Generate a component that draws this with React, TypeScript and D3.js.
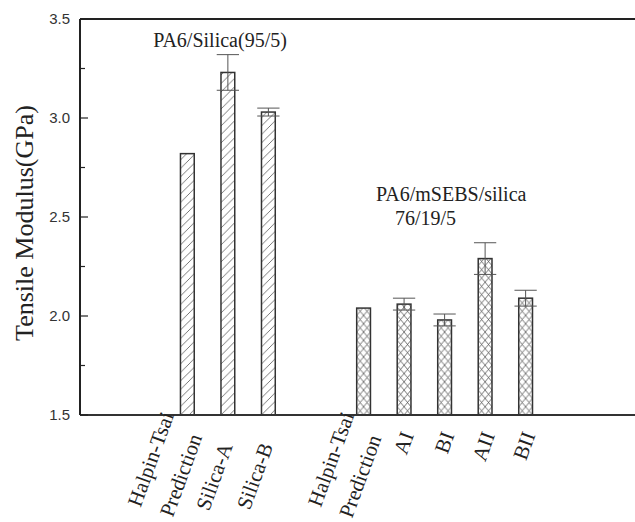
import React from 'react';
import * as d3 from 'd3';

// PA6/Silica (95/5) group
const silicaLabels = [['Halpin-Tsai', 'Prediction'], ['Silica-A'], ['Silica-B']];
const silicaPos = [1, 2, 3];
const silicaValues = [2.82, 3.23, 3.03];
const silicaErrors = [0, 0.09, 0.02];

// PA6/mSEBS/silica 76/19/5 group
const blendLabels = [['Halpin-Tsai', 'Prediction'], ['AI'], ['BI'], ['AII'], ['BII']];
const blendPos = [5.35, 6.35, 7.35, 8.35, 9.35];
const blendValues = [2.04, 2.06, 1.98, 2.29, 2.09];
const blendErrors = [0, 0.03, 0.03, 0.08, 0.04];

const yMajor = [1.5, 2.0, 2.5, 3.0, 3.5];
const yMinor = [1.75, 2.25, 2.75, 3.25];

const W = 635;
const H = 522;
const left = 80;
const top = 19;
const bottom = 415;

const serif = '"Liberation Serif", "Times New Roman", serif';
const sans = '"Liberation Sans", Arial, sans-serif';

// label anchor offsets (px) relative to bar centre: [two-line line1, line2, single]
const groupLayouts = [
  { multi: [[-13, 0], [15, 22]], single: [5, 31] },
  { multi: [[-9, 0], [18, 23]], single: [10, 20] },
];

const App = () => {
  const x = d3.scaleLinear().domain([-1.65, 12.05]).range([left, W]);
  const y = d3.scaleLinear().domain([1.5, 3.5]).range([bottom, top]);
  const barW = x(0.34) - x(0);
  const capW = x(0.55) - x(0);

  const groups = [
    { labels: silicaLabels, pos: silicaPos, values: silicaValues, errors: silicaErrors, hatch: 'diag' },
    { labels: blendLabels, pos: blendPos, values: blendValues, errors: blendErrors, hatch: 'cross' },
  ];

  const bars = groups.flatMap((g, gi) =>
    g.pos.map((p, i) => ({
      key: `${gi}-${i}`,
      cx: x(p),
      value: g.values[i],
      err: g.errors[i],
      label: g.labels[i],
      hatch: g.hatch,
      layout: groupLayouts[gi],
    }))
  );

  return (
    <div style={{ position: 'absolute', left: 0, top: 0 }}>
      <svg width={W} height={H} style={{ display: 'block', background: '#fff' }}>
        <defs>
          {bars.map((b) => {
            const x0 = b.cx - barW / 2;
            return b.hatch === 'diag' ? (
              <pattern key={b.key} id={`p${b.key}`} patternUnits="userSpaceOnUse" width={8.5} height={8.5} x={x0} y={bottom}>
                <path d="M0,8.5 L8.5,0 M-2,2 L2,-2 M6.5,10.5 L10.5,6.5" stroke="#555" strokeWidth={0.8} />
              </pattern>
            ) : (
              <pattern key={b.key} id={`p${b.key}`} patternUnits="userSpaceOnUse" width={barW / 2} height={8.3} x={x0} y={bottom}>
                <path
                  d={`M0,0 L${barW / 2},8.3 M0,8.3 L${barW / 2},0`}
                  stroke="#555"
                  strokeWidth={0.8}
                />
              </pattern>
            );
          })}
        </defs>

        {/* bars */}
        {bars.map((b) => (
          <rect
            key={b.key}
            x={b.cx - barW / 2}
            y={y(b.value)}
            width={barW}
            height={bottom - y(b.value)}
            fill={`url(#p${b.key})`}
            stroke="#333"
            strokeWidth={1.5}
          />
        ))}

        {/* error bars */}
        {bars
          .filter((b) => b.err > 0)
          .map((b) => (
            <g key={`e${b.key}`} stroke="#555" strokeWidth={1}>
              <line x1={b.cx} x2={b.cx} y1={y(b.value + b.err)} y2={y(b.value - b.err)} />
              <line x1={b.cx - capW / 2} x2={b.cx + capW / 2} y1={y(b.value + b.err)} y2={y(b.value + b.err)} />
              <line x1={b.cx - capW / 2} x2={b.cx + capW / 2} y1={y(b.value - b.err)} y2={y(b.value - b.err)} />
            </g>
          ))}

        {/* axes frame */}
        <line x1={left} x2={W} y1={top} y2={top} stroke="#222" strokeWidth={2} />
        <line x1={left} x2={W} y1={bottom} y2={bottom} stroke="#333" strokeWidth={2} />
        <line x1={left} x2={left} y1={top} y2={bottom} stroke="#222" strokeWidth={2} />

        {/* y ticks */}
        {yMajor.map((v) => (
          <g key={`t${v}`}>
            <line x1={left} x2={left + 8} y1={y(v)} y2={y(v)} stroke="#222" strokeWidth={1.2} />
            <text
              x={70}
              y={y(v)}
              dy="0.36em"
              textAnchor="end"
              fontFamily={sans}
              fontSize={15}
              fill="#333"
            >
              {d3.format('.1f')(v)}
            </text>
          </g>
        ))}
        {yMinor.map((v) => (
          <line key={`m${v}`} x1={left} x2={left + 5} y1={y(v)} y2={y(v)} stroke="#222" strokeWidth={1.2} />
        ))}

        {/* y title */}
        <text
          transform={`translate(33,223) rotate(-90)`}
          textAnchor="middle"
          fontFamily={serif}
          fontSize={26}
          fill="#222"
        >
          Tensile Modulus(GPa)
        </text>

        {/* x category labels */}
        {bars.map((b) =>
          b.label.map((line, li) => {
            const off = b.label.length > 1 ? b.layout.multi[li] : b.layout.single;
            return (
              <text
                key={`l${b.key}-${li}`}
                transform={`translate(${b.cx + off[0]},${bottom + off[1]}) rotate(-70)`}
                textAnchor="end"
                fontFamily={serif}
                fontSize={21}
                fill="#222"
              >
                {line}
              </text>
            );
          })
        )}

        {/* group annotations */}
        <text x={220} y={47} textAnchor="middle" fontFamily={serif} fontSize={20} fill="#222">
          PA6/Silica(95/5)
        </text>
        <text x={376} y={201} fontFamily={serif} fontSize={20} fill="#222">
          PA6/mSEBS/silica
        </text>
        <text x={395} y={225} fontFamily={serif} fontSize={20} fill="#222">
          76/19/5
        </text>
      </svg>
    </div>
  );
};

export default App;
